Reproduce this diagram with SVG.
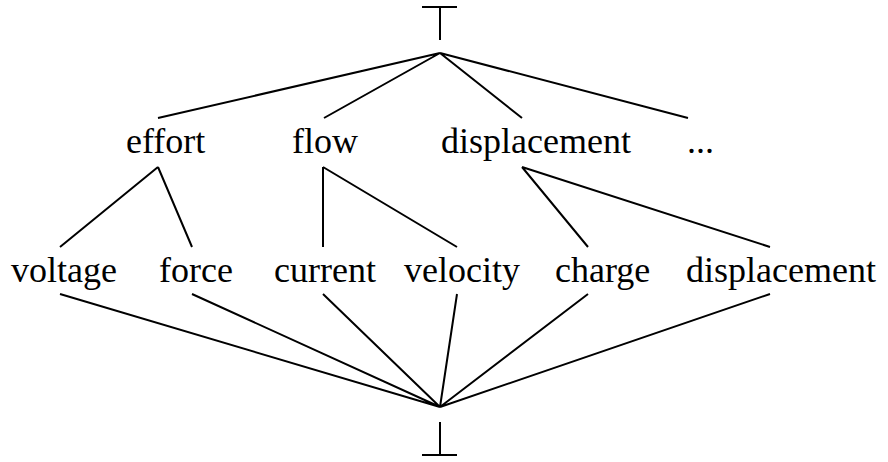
<svg xmlns="http://www.w3.org/2000/svg" width="888" height="462" viewBox="0 0 888 462">
  <style>
    .edge { stroke: #000; stroke-width: 2; fill: none; stroke-linecap: butt; }
    text { font-family: 'Liberation Serif', 'DejaVu Serif', serif; font-size: 36px; fill: #000; }
  </style>
  <rect width="888" height="462" fill="#fff"/>

  <!-- top element -->
  <g id="top">
    <path class="edge" d="M422 7 H457 M440 7 V40"/>
  </g>

  <!-- middle row -->
  <g id="effort"><text x="126" y="153" font-family="Liberation Serif, serif">effort</text></g>
  <g id="flow"><text x="292" y="153" font-family="Liberation Serif, serif">flow</text></g>
  <g id="displacement-kind"><text x="441" y="153" font-family="Liberation Serif, serif">displacement</text></g>
  <g id="more"><text x="687" y="153" font-family="Liberation Serif, serif">...</text></g>

  <!-- bottom row -->
  <g id="voltage"><text x="11" y="282" font-family="Liberation Serif, serif">voltage</text></g>
  <g id="force"><text x="159" y="282" font-family="Liberation Serif, serif">force</text></g>
  <g id="current"><text x="274" y="282" font-family="Liberation Serif, serif">current</text></g>
  <g id="velocity"><text x="404" y="282" font-family="Liberation Serif, serif">velocity</text></g>
  <g id="charge"><text x="555" y="282" font-family="Liberation Serif, serif">charge</text></g>
  <g id="displacement"><text x="686" y="282" font-family="Liberation Serif, serif">displacement</text></g>

  <!-- bottom element -->
  <g id="bottom">
    <path class="edge" d="M440 422 V455 M422 455 H457"/>
  </g>

  <!-- connectors -->
  <g id="connectors">
    <path class="edge" d="M440 53 L158 118 M440 53 L324 118 M440 53 L522 118 M440 53 L688 118"/>
    <path class="edge" d="M158 167 L60 247 M158 167 L192 247"/>
    <path class="edge" d="M323 167 L323 247 M323 167 L457 247"/>
    <path class="edge" d="M522 167 L588 247 M522 167 L770 247"/>
    <path class="edge" d="M60 294 L440 407 M192 294 L440 407 M323 294 L440 407 M457 294 L440 407 M588 294 L440 407 M770 294 L440 407"/>
  </g>
</svg>
